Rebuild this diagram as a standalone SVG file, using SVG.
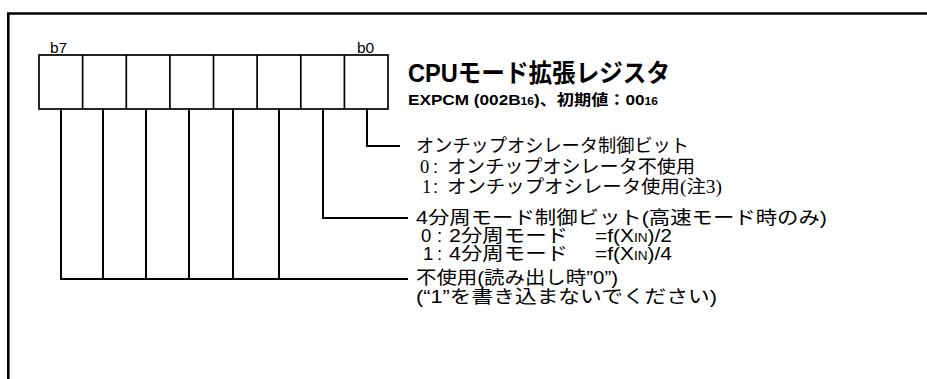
<svg xmlns="http://www.w3.org/2000/svg" width="927" height="379" viewBox="0 0 927 379">
<style>
.frame{fill:none;stroke:#000;stroke-width:2.6}
.cell{fill:#fff;stroke:#000;stroke-width:1.7}
.wire{fill:none;stroke:#000;stroke-width:2}
.t{font-family:"Liberation Sans","Noto Sans CJK JP",sans-serif;font-size:18.5px;fill:#000}
.s{font-family:"Liberation Serif","Noto Sans CJK JP",serif}
.b{font-family:"Liberation Sans","Noto Sans CJK JP",sans-serif;font-weight:bold;fill:#000}
.lbl{font-family:"Liberation Sans",sans-serif;font-size:15.5px;fill:#000}
</style>
<path class="frame" d="M8.3,379 V13.5 H927"/>
<g id="register">
<rect class="cell" x="39" y="55" width="349" height="54"/>
<path class="cell" d="M82.6,55V109M126.3,55V109M169.9,55V109M213.5,55V109M257.1,55V109M300.8,55V109M344.4,55V109"/>
<text class="lbl" x="50" y="53">b7</text>
<text class="lbl" x="357" y="53">b0</text>
</g>
<g id="title">
<text class="b" x="408" y="82" font-size="25" textLength="262" lengthAdjust="spacingAndGlyphs">CPUモード拡張レジスタ</text>
<text class="b" x="408" y="105" font-size="15" textLength="250" lengthAdjust="spacingAndGlyphs">EXPCM (002B<tspan font-size="10.5">16</tspan>)、初期値：00<tspan font-size="10.5">16</tspan></text>
</g>
<g id="connectors">
<path class="wire" d="M367,109V146H400"/>
<path class="wire" d="M323,109V218H408"/>
<path class="wire" d="M61,109V279H408M103,109V279M146,109V279M189,109V279M233,109V279M279,109V279"/>
</g>
<g id="bit0">
<text class="t" x="416" y="152" textLength="273" lengthAdjust="spacingAndGlyphs">オンチップオシレータ制御ビット</text>
<text class="t" y="173"><tspan class="s" x="420">0</tspan><tspan x="433">:</tspan></text>
<text class="t" x="447" y="173" textLength="248" lengthAdjust="spacingAndGlyphs">オンチップオシレータ不使用</text>
<text class="t" y="193"><tspan class="s" x="422">1</tspan><tspan x="433">:</tspan></text>
<text class="t" x="447" y="193" textLength="275" lengthAdjust="spacingAndGlyphs">オンチップオシレータ使用<tspan class="s">(注3)</tspan></text>
</g>
<g id="bit1">
<text class="t" x="416" y="224" textLength="411" lengthAdjust="spacingAndGlyphs">4分周モード制御ビット(高速モード時のみ)</text>
<text class="t" y="242"><tspan x="421">0</tspan><tspan x="437">:</tspan></text>
<text class="t" x="449" y="242" textLength="119" lengthAdjust="spacingAndGlyphs">2分周モード</text>
<text class="t" x="595" y="242" textLength="77" lengthAdjust="spacingAndGlyphs">=f(X<tspan font-size="12">IN</tspan>)/2</text>
<text class="t" y="260"><tspan x="423">1</tspan><tspan x="437">:</tspan></text>
<text class="t" x="449" y="260" textLength="119" lengthAdjust="spacingAndGlyphs">4分周モード</text>
<text class="t" x="595" y="260" textLength="77" lengthAdjust="spacingAndGlyphs">=f(X<tspan font-size="12">IN</tspan>)/4</text>
</g>
<g id="bits7to2">
<text class="t" x="416" y="284" textLength="202" lengthAdjust="spacingAndGlyphs">不使用(読み出し時”0”)</text>
<text class="t" x="416" y="303" textLength="301" lengthAdjust="spacingAndGlyphs">(“1”を書き込まないでください)</text>
</g>
</svg>
